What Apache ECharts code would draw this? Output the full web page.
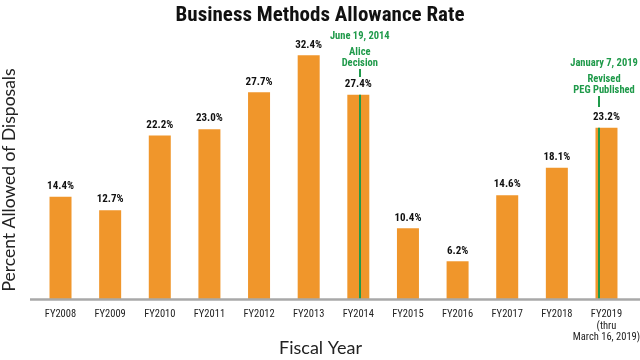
<!DOCTYPE html>
<html>
<head>
<meta charset="utf-8">
<script src="https://cdn.jsdelivr.net/npm/echarts@6/dist/echarts.min.js"></script>
<style>html,body{margin:0;padding:0;background:#fff}#c{width:640px;height:360px}</style>
</head>
<body>
<div id="c"></div>
<script>
const categories = ['FY2008','FY2009','FY2010','FY2011','FY2012','FY2013','FY2014','FY2015','FY2016','FY2017','FY2018','FY2019'];
const categoryLabels = ['FY2008','FY2009','FY2010','FY2011','FY2012','FY2013','FY2014','FY2015','FY2016','FY2017','FY2018','FY2019\n(thru\nMarch 16, 2019)'];
const allowanceRate = [14.4, 12.7, 22.2, 23.0, 27.7, 32.4, 27.4, 10.4, 6.2, 14.6, 18.1, 23.2];
const events = [
  {category: 'FY2014', offset: 0.03, date: 'June 19, 2014', title: ['Alice', 'Decision']},
  {category: 'FY2019', offset: -0.15, date: 'January 7, 2019', title: ['Revised', 'PEG Published']}
];

const NARROW = '"Roboto Condensed", "Open Sans Condensed", sans-serif';
const PLAIN = 'Lato, "Open Sans", sans-serif';
const GREEN = '#1f9a4a';
const Y_MIN = 1.4, Y_MAX = 34.35;
const pxPerUnit = 259 / (Y_MAX - Y_MIN);
function yAt(px) { return Y_MIN + (299 - px) / pxPerUnit; }

const tickPx = [[77, 69], [107, 96]];
const lineData = [];
events.forEach((ev, i) => {
  const idx = categories.indexOf(ev.category);
  const x = idx + ev.offset;
  const v = allowanceRate[idx];
  lineData.push([{coord: [x, Y_MIN]}, {coord: [x, v]}]);
  lineData.push([
    {coord: [x, yAt(tickPx[i][0])]},
    {coord: [x, yAt(tickPx[i][1])],
     label: {
       show: true, position: 'end', distance: 0,
       offset: [i === 1 ? 5 : 0, 0],
       formatter: '{d|' + ev.date + '}\n' + ev.title.map(t => '{t|' + t + '}').join('\n'),
       rich: {
         d: {fontFamily: NARROW, fontWeight: 'bold', fontSize: 10.5, color: GREEN, lineHeight: 21, align: 'center'},
         t: {fontFamily: NARROW, fontWeight: 'bold', fontSize: 10.5, color: GREEN, lineHeight: 11, align: 'center'}
       }
     }}
  ]);
});

const chart = echarts.init(document.getElementById('c'), null, {renderer: 'canvas'});
chart.setOption({
  animation: false,
  backgroundColor: '#fff',
  title: {
    text: 'Business Methods Allowance Rate',
    left: 'center', top: 0,
    textStyle: {fontFamily: NARROW, fontWeight: 'bold', fontSize: 21, color: '#111'}
  },
  grid: {left: 35.7, right: 8.7, top: 40, bottom: 61, outerBoundsMode: 'none', containLabel: false},
  xAxis: [{
    type: 'category',
    data: categories,
    axisLine: {show: false},
    axisTick: {show: false},
    axisLabel: {
      fontFamily: NARROW, fontSize: 10.5, color: '#222', margin: 10, lineHeight: 11.5,
      interval: 0,
      formatter: (v, i) => categoryLabels[i]
    },
    name: 'Fiscal Year',
    nameLocation: 'middle',
    nameGap: 40,
    nameMoveOverlap: false,
    nameTextStyle: {fontFamily: PLAIN, fontSize: 18, color: '#222', padding: [0, 26, 0, 0]}
  }, {
    type: 'value', min: -0.5, max: 11.5, show: false
  }],
  yAxis: {
    type: 'value', min: Y_MIN, max: Y_MAX,
    axisLine: {show: false}, axisTick: {show: false}, axisLabel: {show: false}, splitLine: {show: false},
    name: 'Percent Allowed of Disposals',
    nameLocation: 'middle',
    nameGap: 17,
    nameMoveOverlap: false,
    nameTextStyle: {fontFamily: PLAIN, fontSize: 17.5, color: '#222', padding: [0, 21, 0, 0]}
  },
  graphic: [{
    type: 'line', shape: {x1: 30, y1: 299.5, x2: 640, y2: 299.5},
    style: {stroke: '#a8a8a8', lineWidth: 2.5}, z: 10
  }],
  series: [{
    type: 'bar',
    data: allowanceRate,
    barWidth: 22,
    itemStyle: {color: '#f0962b'},
    label: {
      show: true, position: 'top', distance: 5,
      formatter: p => p.value.toFixed(1) + '%',
      fontFamily: NARROW, fontWeight: 'bold', fontSize: 11, color: '#111'
    }
  }, {
    type: 'scatter',
    xAxisIndex: 1,
    data: [],
    markLine: {
      silent: true,
      symbol: ['none', 'none'],
      lineStyle: {color: GREEN, width: 2, type: 'solid'},
      label: {show: false},
      data: lineData
    }
  }]
});
</script>
</body>
</html>
